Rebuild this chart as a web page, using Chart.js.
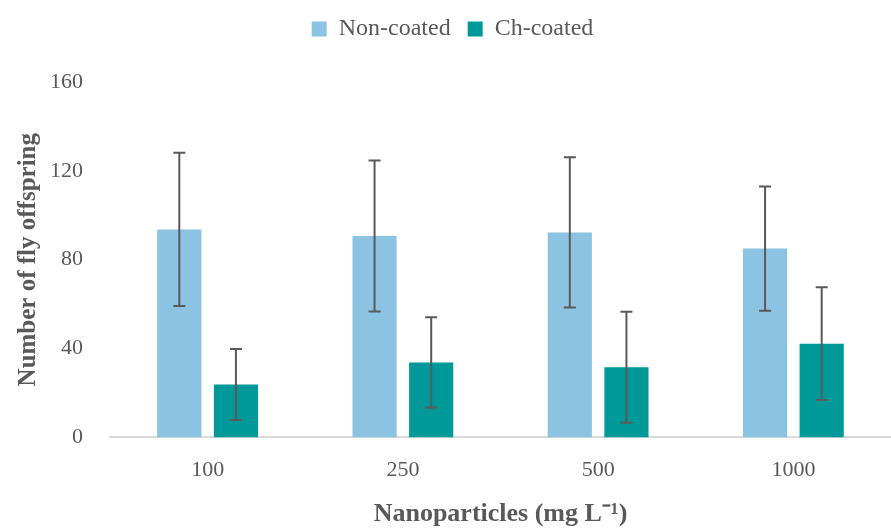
<!DOCTYPE html>
<html>
<head>
<meta charset="utf-8">
<script src="https://cdn.jsdelivr.net/npm/chart.js@4.4.1/dist/chart.umd.min.js"></script>
<style>
  html, body { margin: 0; padding: 0; background: #fff; }
  #wrap { width: 891px; height: 530px; }
</style>
</head>
<body>
<div id="wrap"><canvas id="myChart"></canvas></div>
<script>
// data
var doses = ['100', '250', '500', '1000'];
var nonCoated = [93.6, 90.7, 92.3, 85.0];
var nonCoatedErr = [34.5, 34.0, 33.8, 28.0];
var chCoated = [23.8, 33.7, 31.6, 42.2];
var chCoatedErr = [16.0, 20.4, 25.0, 25.4];
var yTicks = [0, 40, 80, 120, 160];

var textGrey = '#595959';
var serif = "'Palatino Linotype', 'Book Antiqua', Palatino, 'Liberation Serif', serif";

// draws the +/- error whiskers using the chart's own scales
var errorBars = {
  id: 'errorBars',
  afterDatasetsDraw: function(chart) {
    var ctx = chart.ctx;
    var yScale = chart.scales.y;
    chart.data.datasets.forEach(function(ds, i) {
      var meta = chart.getDatasetMeta(i);
      meta.data.forEach(function(bar, j) {
        var v = ds.data[j], e = ds.errors[j];
        var top = yScale.getPixelForValue(v + e);
        var bot = yScale.getPixelForValue(v - e);
        var x = bar.x;
        ctx.save();
        ctx.strokeStyle = '#595959';
        ctx.lineWidth = 2;
        ctx.beginPath();
        ctx.moveTo(x, top); ctx.lineTo(x, bot);
        ctx.moveTo(x - 6, top); ctx.lineTo(x + 6, top);
        ctx.moveTo(x - 6, bot); ctx.lineTo(x + 6, bot);
        ctx.stroke();
        ctx.restore();
      });
    });
  }
};

// extra room under the legend
var legendGap = {
  id: 'legendGap',
  beforeInit: function(chart) {
    var fit = chart.legend.fit;
    chart.legend.fit = function() {
      fit.bind(chart.legend)();
      this.height += 31;
    };
  }
};

new Chart(document.getElementById('myChart'), {
  type: 'bar',
  data: {
    labels: doses,
    datasets: [{
      label: 'Non-coated',
      data: nonCoated,
      errors: nonCoatedErr,
      backgroundColor: '#8cc3e2'
    }, {
      label: 'Ch-coated',
      data: chCoated,
      errors: chCoatedErr,
      backgroundColor: '#009999'
    }]
  },
  options: {
    responsive: true,
    maintainAspectRatio: false,
    animation: false,
    categoryPercentage: 0.58,
    barPercentage: 0.78,
    layout: { padding: { left: 14, right: 0, top: 0, bottom: 0 } },
    plugins: {
      tooltip: { enabled: false },
      legend: {
        position: 'top',
        labels: {
          color: textGrey,
          boxWidth: 15,
          boxHeight: 15,
          padding: 17,
          font: { family: serif, size: 24 }
        }
      }
    },
    scales: {
      x: {
        afterFit: function(axis) { axis.height -= 5; },
        grid: { display: false, drawTicks: false },
        border: { color: '#d9d9d9', width: 2 },
        ticks: { color: textGrey, padding: 20, font: { family: serif, size: 22 } },
        title: {
          display: true,
          text: 'Nanoparticles (mg L\u207B\u00B9)',
          color: textGrey,
          padding: { top: 0, bottom: 0 },
          font: { family: serif, size: 26, weight: 'bold' }
        }
      },
      y: {
        min: 0,
        max: 160,
        afterFit: function(axis) { axis.width = 96; },
        afterBuildTicks: function(axis) {
          axis.ticks = yTicks.map(function(v) { return { value: v }; });
        },
        grid: { display: false, drawTicks: false },
        border: { display: false },
        ticks: { color: textGrey, padding: 27, font: { family: serif, size: 22 } },
        title: {
          display: true,
          text: 'Number of fly offspring',
          color: textGrey,
          padding: { top: 0, bottom: 10 },
          font: { family: serif, size: 25, weight: 'bold' }
        }
      }
    }
  },
  plugins: [errorBars, legendGap]
});
</script>
</body>
</html>
